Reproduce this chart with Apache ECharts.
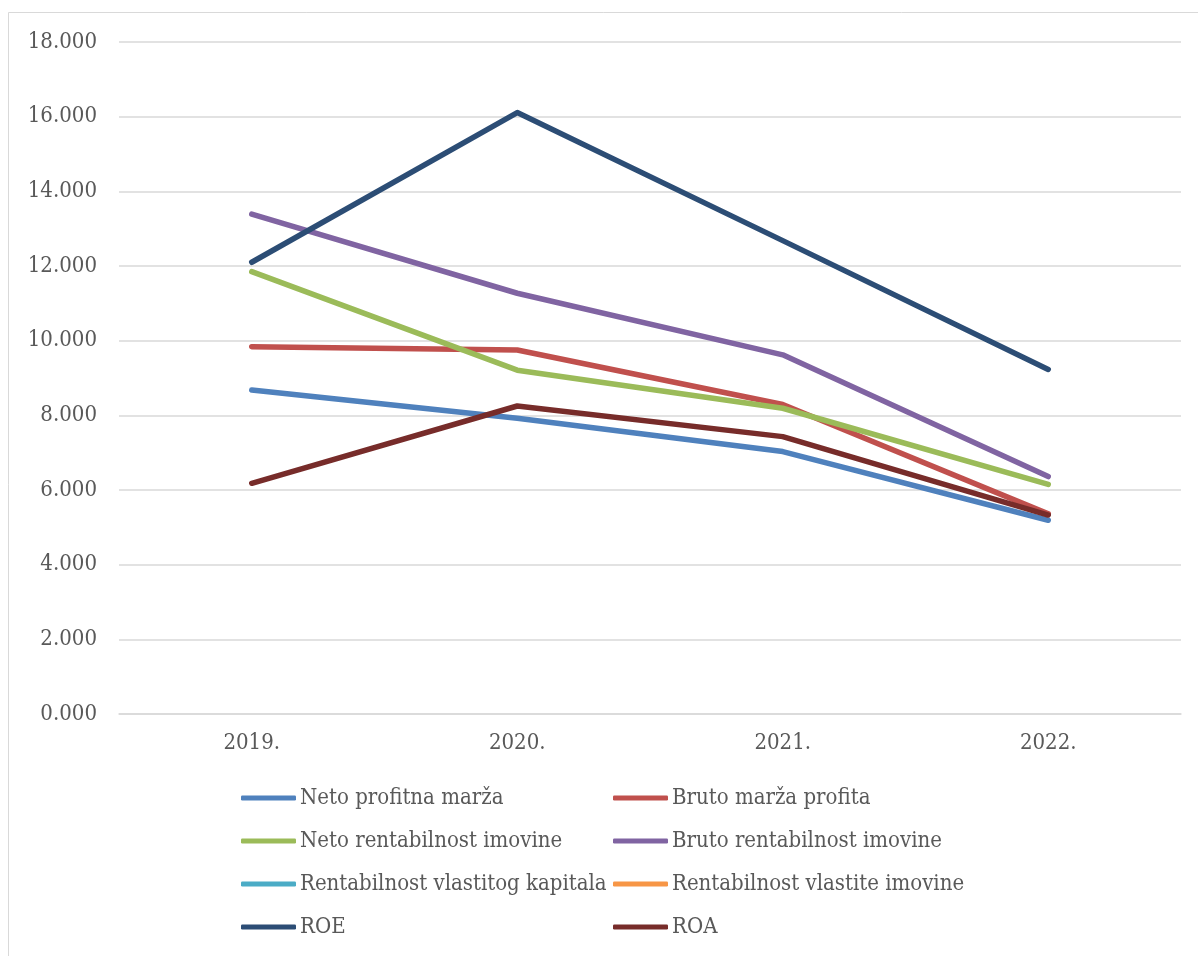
<!DOCTYPE html>
<html>
<head>
<meta charset="utf-8">
<script src="https://cdn.jsdelivr.net/npm/echarts@6/dist/echarts.min.js"></script>
<style>
html,body{margin:0;padding:0;background:#fff;}
#chart{width:1198px;height:956px;}
</style>
</head>
<body>
<div id="chart"></div>
<script>
const categories = ['2019.', '2020.', '2021.', '2022.'];
const netoProfitnaMarza = [8.68, 7.92, 7.03, 5.19];
const brutoMarzaProfita = [9.84, 9.75, 8.29, 5.36];
const netoRentabilnostImovine = [11.85, 9.21, 8.19, 6.15];
const brutoRentabilnostImovine = [13.39, 11.27, 9.62, 6.36];
const rentabilnostVlastitogKapitala = [null, null, null, null];
const rentabilnostVlastiteImovine = [null, null, null, null];
const roe = [12.10, 16.11, 12.68, 9.23];
const roa = [6.18, 8.25, 7.43, 5.33];
const yTicks = { min: 0, max: 18, interval: 2 };

const FONT = 'DejaVu Serif Condensed';
const TXT = '#595959';

const seriesDefs = [
  ['Neto profitna marža', netoProfitnaMarza, '#4f81bd'],
  ['Bruto marža profita', brutoMarzaProfita, '#c0504d'],
  ['Neto rentabilnost imovine', netoRentabilnostImovine, '#9bbb59'],
  ['Bruto rentabilnost imovine', brutoRentabilnostImovine, '#8064a2'],
  ['Rentabilnost vlastitog kapitala', rentabilnostVlastitogKapitala, '#4bacc6'],
  ['Rentabilnost vlastite imovine', rentabilnostVlastiteImovine, '#f79646'],
  ['ROE', roe, '#2c4d75'],
  ['ROA', roa, '#772c2a']
];

const legendCommon = {
  orient: 'vertical',
  top: 787,
  padding: 0,
  itemGap: 21,
  itemWidth: 55,
  itemHeight: 5,
  icon: 'roundRect',
  textStyle: { fontFamily: FONT, fontSize: 22, color: TXT, lineHeight: 22, padding: [0, 0, 0, -1] }
};

const chart = echarts.init(document.getElementById('chart'), null, { renderer: 'canvas' });
chart.setOption({
  animation: false,
  backgroundColor: '#fff',
  graphic: [{
    type: 'rect',
    shape: { x: 8.5, y: 12.5, width: 1400, height: 1200 },
    style: { fill: 'none', stroke: '#d9d9d9', lineWidth: 1 },
    silent: true
  }],
  grid: { left: 119, right: 17, top: 42, bottom: 242 },
  legend: [
    Object.assign({}, legendCommon, { left: 241, data: [seriesDefs[0][0], seriesDefs[2][0], seriesDefs[4][0], seriesDefs[6][0]] }),
    Object.assign({}, legendCommon, { left: 613, data: [seriesDefs[1][0], seriesDefs[3][0], seriesDefs[5][0], seriesDefs[7][0]] })
  ],
  xAxis: {
    type: 'category',
    data: categories,
    boundaryGap: true,
    axisLine: { show: true, lineStyle: { color: '#d9d9d9', width: 1.5 } },
    axisTick: { show: false },
    axisLabel: { fontFamily: FONT, fontSize: 22, color: TXT, margin: 18 }
  },
  yAxis: {
    type: 'value',
    min: yTicks.min,
    max: yTicks.max,
    interval: yTicks.interval,
    axisLine: { show: false },
    axisTick: { show: false },
    splitLine: { lineStyle: { color: '#d9d9d9', width: 1.5 } },
    axisLabel: { fontFamily: FONT, fontSize: 22, color: TXT, margin: 22, formatter: v => v.toFixed(3) }
  },
  series: seriesDefs.map(([name, data, color]) => ({
    name: name,
    type: 'line',
    data: data,
    symbol: 'none',
    showSymbol: false,
    color: color,
    lineStyle: { color: color, width: 5.5, cap: 'round', join: 'round' },
    itemStyle: { color: color }
  }))
});
</script>
</body>
</html>
